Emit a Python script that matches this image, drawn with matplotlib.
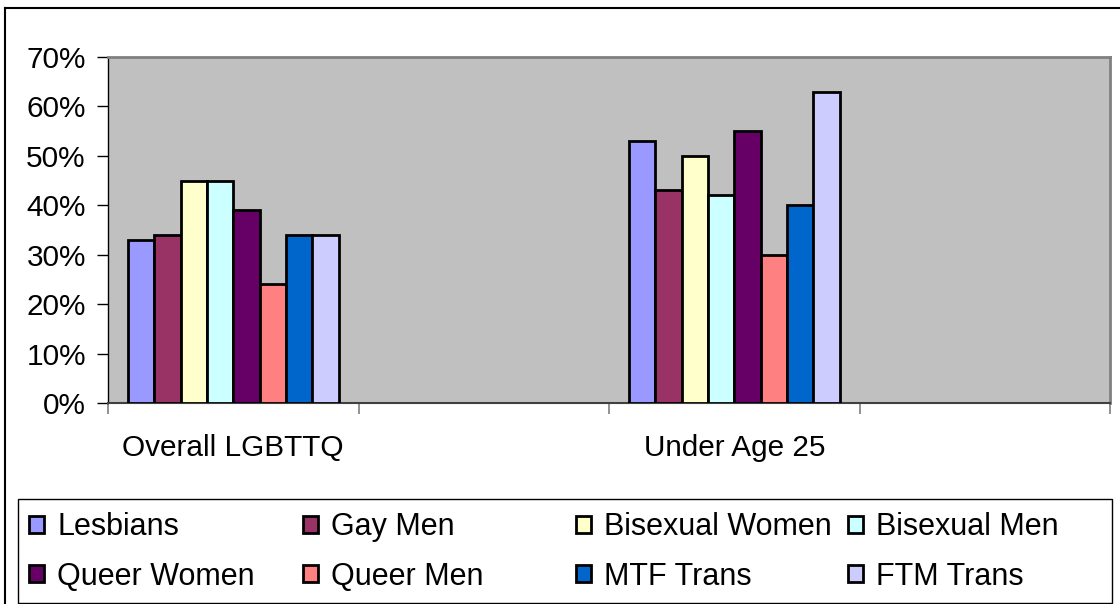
import matplotlib
matplotlib.use("Agg")
import matplotlib.pyplot as plt
import numpy as np
from matplotlib.lines import Line2D
from matplotlib.patches import Rectangle
from matplotlib.ticker import PercentFormatter, FixedLocator

plt.rcParams['font.family'] = ['Liberation Sans', 'DejaVu Sans']

categories = ["Overall LGBTTQ", "", "Under Age 25", ""]
series = ["Lesbians", "Gay Men", "Bisexual Women", "Bisexual Men",
          "Queer Women", "Queer Men", "MTF Trans", "FTM Trans"]
overall = [0.33, 0.34, 0.45, 0.45, 0.39, 0.24, 0.34, 0.34]
under25 = [0.53, 0.43, 0.50, 0.42, 0.55, 0.30, 0.40, 0.63]
colors = ["#9999FF", "#993366", "#FFFFCC", "#CCFFFF",
          "#660066", "#FF8080", "#0066CC", "#CCCCFF"]

# values per series for the 4 categories (2nd and 4th are empty)
values = [[overall[i], np.nan, under25[i], np.nan] for i in range(len(series))]

W, H = 1120, 604
fig = plt.figure(figsize=(W / 100, H / 100), dpi=100)
ax = fig.add_axes([108/W, 1 - 403/H, (1110 - 108)/W, (403 - 57)/H])
ax.set_facecolor("#C0C0C0")

x = np.arange(len(categories))
w = 1 / 9.5
handles = []
for i, name in enumerate(series):
    b = ax.bar(x + (i - 3.5) * w, values[i], width=w, color=colors[i],
               edgecolor="black", linewidth=2.0, label=name, zorder=3)
    handles.append(b)

ax.set_xlim(-0.5, len(categories) - 0.5)
ax.set_ylim(0, 0.7)
ax.set_yticks(np.arange(0, 0.71, 0.1))
ax.yaxis.set_major_formatter(PercentFormatter(1.0, decimals=0))
ax.tick_params(axis="y", labelsize=21.4, length=8, width=1, pad=8, color="black")

ax.xaxis.set_major_locator(FixedLocator(np.arange(-0.5, len(categories), 1.0)))
ax.xaxis.set_minor_locator(FixedLocator(x))
ax.set_xticklabels([], minor=False)
ax.set_xticklabels(categories, minor=True)
ax.tick_params(axis="x", which="major", length=8, width=1.2, color="#808080", direction="out")
ax.tick_params(axis="x", which="minor", length=0, labelsize=21.4, pad=22.5)

for s in ["top", "right"]:
    ax.spines[s].set_color("#808080")
    ax.spines[s].set_linewidth(2)
ax.spines["left"].set_color("black")
ax.spines["bottom"].set_color("#404040")
ax.spines["left"].set_linewidth(1)
ax.spines["bottom"].set_linewidth(1.5)

# legend: one small legend per column, rows = (top series, bottom series)
col_left = [29, 303, 576, 848]
fs = 22
for c in range(4):
    idx = [c, c + 4]
    leg = fig.legend([handles[k] for k in idx], [series[k] for k in idx],
                     loc="center left", bbox_to_anchor=(col_left[c]/W, 1 - 552/H),
                     fontsize=fs, handlelength=0.49, handleheight=0.49,
                     handletextpad=0.43, labelspacing=0.63, borderaxespad=0,
                     borderpad=0, frameon=False)
fig.add_artist(Rectangle((18/W, 1 - 603/H), (1112 - 18)/W, (603 - 499)/H,
                         transform=fig.transFigure, fill=False,
                         edgecolor="black", linewidth=1))

# outer chart border
fig.add_artist(Line2D([5/W, 5/W], [0, 1 - 8/H], color="black", linewidth=1.5))
fig.add_artist(Line2D([5/W, 1], [1 - 8/H, 1 - 8/H], color="black", linewidth=1.5))

fig.savefig("out.png", dpi=100)
